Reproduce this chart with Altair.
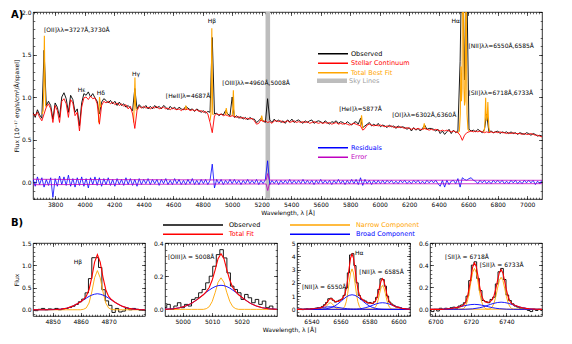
import altair as alt
import numpy as np
import pandas as pd

FONT = "DejaVu Sans"

# ======================= Panel A : integrated spectrum =======================
WAVE_START = 3650      # Angstrom, first sample
WAVE_STEP = 15         # Angstrom between samples

OBSERVED = [
    0.82, 0.76, 0.85, 0.79, 0.75, 1.55, 0.90, 0.95, 0.90, 0.74,
    0.93, 0.88, 0.76, 1.00, 1.05, 0.98, 0.82, 1.02, 0.97, 0.82,
    0.86, 0.66, 0.93, 1.04, 1.02, 1.06, 1.00, 1.04, 0.99, 0.95,
    0.80, 0.94, 0.98, 0.96, 0.93, 0.96, 0.92, 0.95, 0.90, 0.94,
    0.90, 0.92, 0.88, 0.90, 0.87, 0.84, 1.10, 0.86, 0.91, 0.88,
    0.87, 0.90, 0.86, 0.89, 0.86, 0.90, 0.87, 0.89, 0.86, 0.90,
    0.88, 0.85, 0.89, 0.86, 0.88, 0.85, 0.88, 0.86, 0.85, 0.89,
    0.87, 0.85, 0.86, 0.83, 0.86, 0.84, 0.82, 0.84, 0.81, 0.83,
    0.82, 1.70, 0.80, 0.81, 0.78, 0.80, 0.79, 0.84, 0.80, 0.78,
    1.00, 0.76, 0.78, 0.75, 0.77, 0.74, 0.76, 0.73, 0.76, 0.74,
    0.74, 0.70, 0.72, 0.75, 0.72, 0.70, 0.98, 0.73, 0.70, 0.74,
    0.71, 0.73, 0.70, 0.72, 0.69, 0.73, 0.71, 0.74, 0.70, 0.72,
    0.73, 0.71, 0.69, 0.72, 0.70, 0.72, 0.73, 0.69, 0.71, 0.72,
    0.71, 0.69, 0.72, 0.70, 0.68, 0.71, 0.70, 0.72, 0.69, 0.71,
    0.70, 0.68, 0.71, 0.69, 0.67, 0.70, 0.71, 0.68, 0.75, 0.64,
    0.66, 0.68, 0.70, 0.66, 0.68, 0.66, 0.69, 0.65, 0.67, 0.66,
    0.64, 0.67, 0.65, 0.66, 0.63, 0.66, 0.64, 0.65, 0.64, 0.62,
    0.64, 0.60, 0.64, 0.61, 0.63, 0.60, 0.63, 0.67, 0.62, 0.63,
    0.63, 0.62, 0.60, 0.62, 0.57, 0.60, 0.56, 0.59, 0.62, 0.57,
    0.61, 0.58, 0.60, 1.42, 3.00, 1.20, 2.40, 0.62, 0.60, 0.61,
    0.59, 0.62, 0.60, 0.58, 0.62, 0.80, 0.59, 0.60, 0.58, 0.59,
    0.60, 0.57, 0.59, 0.58, 0.59, 0.57, 0.59, 0.57, 0.58, 0.56,
    0.58, 0.57, 0.56, 0.58, 0.57, 0.55, 0.57, 0.56, 0.54, 0.55, 0.54,
]
CONTINUUM = [
    0.80, 0.78, 0.82, 0.76, 0.72, 0.80, 0.88, 0.92, 0.86, 0.70,
    0.90, 0.84, 0.70, 0.95, 0.98, 0.92, 0.76, 0.97, 0.93, 0.78,
    0.82, 0.60, 0.88, 0.99, 1.00, 0.97, 1.01, 0.98, 0.99, 0.92,
    0.68, 0.90, 0.95, 0.93, 0.95, 0.92, 0.94, 0.91, 0.93, 0.90,
    0.92, 0.89, 0.91, 0.86, 0.89, 0.80, 0.63, 0.84, 0.89, 0.87,
    0.89, 0.87, 0.88, 0.86, 0.88, 0.87, 0.89, 0.86, 0.87, 0.88,
    0.86, 0.87, 0.85, 0.87, 0.86, 0.85, 0.86, 0.84, 0.86, 0.85,
    0.86, 0.84, 0.85, 0.84, 0.85, 0.83, 0.84, 0.82, 0.83, 0.80,
    0.70, 0.58, 0.78, 0.80, 0.79, 0.80, 0.78, 0.79, 0.78, 0.77,
    0.78, 0.77, 0.76, 0.77, 0.75, 0.76, 0.74, 0.75, 0.74, 0.75,
    0.72, 0.68, 0.69, 0.73, 0.71, 0.72, 0.70, 0.71, 0.69, 0.72,
    0.72, 0.71, 0.72, 0.70, 0.71, 0.72, 0.70, 0.71, 0.72, 0.70,
    0.71, 0.70, 0.71, 0.70, 0.71, 0.69, 0.70, 0.71, 0.70, 0.69,
    0.70, 0.69, 0.70, 0.69, 0.70, 0.68, 0.69, 0.70, 0.68, 0.69,
    0.68, 0.69, 0.68, 0.67, 0.68, 0.69, 0.68, 0.67, 0.66, 0.61,
    0.63, 0.67, 0.68, 0.67, 0.66, 0.67, 0.66, 0.67, 0.66, 0.65,
    0.66, 0.65, 0.66, 0.64, 0.65, 0.64, 0.65, 0.64, 0.63, 0.64,
    0.63, 0.62, 0.63, 0.62, 0.63, 0.62, 0.62, 0.63, 0.62, 0.61,
    0.62, 0.61, 0.62, 0.61, 0.60, 0.61, 0.60, 0.61, 0.60, 0.59,
    0.60, 0.59, 0.58, 0.55, 0.49, 0.55, 0.58, 0.59, 0.60, 0.59,
    0.60, 0.59, 0.60, 0.59, 0.58, 0.59, 0.58, 0.59, 0.58, 0.59,
    0.58, 0.59, 0.58, 0.58, 0.57, 0.58, 0.57, 0.58, 0.57, 0.57,
    0.57, 0.56, 0.57, 0.56, 0.56, 0.57, 0.56, 0.55, 0.55, 0.54, 0.53,
]
RESIDUALS = [
    0.04, -0.05, 0.06, -0.03, 0.05, -0.06, 0.03, -0.04, 0.05, -0.18,
    0.04, -0.05, 0.07, -0.03, 0.06, -0.04, 0.08, -0.05, 0.04, -0.06,
    0.05, -0.04, 0.06, -0.05, 0.04, -0.07, 0.05, -0.03, 0.06, -0.04,
    0.05, -0.05, 0.04, -0.03, 0.05, -0.04, 0.03, -0.05, 0.04, -0.03,
    0.03, -0.04, 0.05, -0.03, 0.04, -0.04, 0.03, -0.05, 0.04, -0.03,
    0.03, -0.02, 0.04, -0.03, 0.03, -0.02, 0.03, -0.04, 0.03, -0.02,
    0.04, -0.03, 0.02, -0.03, 0.04, -0.02, 0.03, -0.03, 0.02, -0.03,
    0.03, -0.02, 0.04, -0.03, 0.02, -0.03, 0.03, -0.02, 0.03, -0.03,
    0.02, 0.21, -0.07, 0.03, -0.02, 0.03, -0.03, 0.02, -0.02, 0.03,
    -0.02, 0.03, -0.02, 0.02, -0.03, 0.02, -0.02, 0.03, -0.02, 0.02,
    -0.02, 0.03, -0.03, 0.02, -0.02, 0.03, 0.25, -0.03, 0.02, -0.02,
    0.02, -0.03, 0.02, -0.02, 0.02, -0.02, 0.03, -0.02, 0.02, -0.02,
    0.02, -0.02, 0.03, -0.02, 0.02, -0.02, 0.02, -0.03, 0.02, -0.02,
    0.03, -0.02, 0.02, -0.02, 0.02, -0.03, 0.02, -0.02, 0.03, -0.02,
    0.02, -0.03, 0.02, -0.02, 0.03, -0.02, 0.03, -0.03, 0.05, -0.04,
    0.03, -0.02, 0.02, -0.03, 0.02, -0.02, 0.02, -0.02, 0.02, -0.02,
    0.02, -0.01, 0.02, -0.02, 0.01, -0.02, 0.02, -0.01, 0.02, -0.02,
    0.01, -0.02, 0.02, -0.01, 0.02, -0.02, 0.01, -0.02, 0.02, -0.01,
    0.02, -0.01, 0.02, -0.02, -0.05, 0.02, -0.06, 0.02, -0.03, 0.01,
    0.02, -0.02, 0.04, -0.06, 0.05, 0.03, 0.02, 0.04, 0.05, 0.02,
    0.01, -0.02, 0.02, -0.01, 0.02, -0.02, 0.01, -0.02, 0.02, -0.01,
    0.02, -0.01, 0.02, -0.02, 0.01, -0.02, 0.02, -0.01, 0.02, -0.02,
    0.01, -0.02, 0.02, -0.01, 0.02, -0.01, 0.02, -0.03, 0.01, -0.02, 0.02,
]
ERR_WAVE = [3650, 3900, 4200, 4600, 5000, 5230, 5241, 5252, 5600, 6000, 6500, 7100]
ERR_VAL = [0.032, 0.030, 0.028, 0.026, 0.024, 0.023, 0.10, 0.023, 0.022, 0.021, 0.021, 0.020]

SKY_LO = [5226]
SKY_HI = [5257]

# total best fit (continuum + emission lines) around each emission line
BESTFIT = {
    "OII":   ([3712, 3719, 3724, 3727, 3730, 3735, 3742], [0.80, 0.84, 1.20, 1.72, 1.30, 0.90, 0.88]),
    "Hd":    ([4094, 4101, 4108], [0.70, 1.00, 0.88]),
    "Hg":    ([4332, 4337, 4341, 4345, 4350], [0.70, 0.95, 1.23, 0.90, 0.84]),
    "HeII":  ([4680, 4686, 4692], [0.85, 0.90, 0.85]),
    "Hb":    ([4850, 4856, 4859, 4862, 4865, 4868, 4874], [0.72, 0.80, 1.20, 1.81, 1.20, 0.80, 0.79]),
    "OIIIa": ([4953, 4960, 4967], [0.79, 0.87, 0.79]),
    "OIIIb": ([5000, 5004, 5008, 5012, 5016], [0.78, 0.85, 1.08, 0.85, 0.77]),
    "NI":    ([5193, 5200, 5207], [0.72, 0.78, 0.72]),
    "HeI":   ([5869, 5877, 5885], [0.66, 0.785, 0.63]),
    "OI":    ([6295, 6302, 6309], [0.62, 0.69, 0.62]),
    "Ha":    ([6530, 6540, 6546, 6550, 6554, 6558, 6561, 6564, 6567, 6571, 6575, 6579, 6582, 6585, 6588, 6592, 6598, 6606],
              [0.58, 0.60, 0.80, 1.36, 0.95, 1.10, 2.40, 4.50, 2.40, 1.10, 0.90, 0.95, 1.60, 2.90, 1.60, 0.80, 0.62, 0.60]),
    "SII":   ([6706, 6712, 6715, 6718, 6721, 6725, 6729, 6733, 6736, 6740, 6746],
              [0.59, 0.65, 0.80, 0.99, 0.80, 0.72, 0.78, 0.94, 0.78, 0.64, 0.59]),
}

A_LABELS = ["[OII]λλ=3727Å,3730Å", "Hε", "Hδ", "Hγ", "[HeII]λ=4687Å", "Hβ",
            "[OIII]λλ=4960Å,5008Å", "[HeI]λ=5877Å", "[OI]λλ=6302Å,6360Å", "Hα",
            "[NII]λλ=6550Å,6585Å", "[SII]λλ=6718Å,6733Å"]
A_LABEL_WAVE = [3724, 3980, 4110, 4349, 4701, 4863, 5162, 5870, 6302, 6515, 6601, 6601]
A_LABEL_FLUX = [1.79, 1.08, 1.05, 1.27, 1.01, 1.90, 1.17, 0.86, 0.785, 1.90, 1.60, 1.05]
A_LABEL_ALIGN = ["left", "center", "center", "center", "center", "center",
                 "center", "center", "center", "center", "left", "left"]

A_XDOM = [3650, 7100]
A_YDOM = [-0.2, 2.0]
A_XTICKS = list(range(3800, 7001, 200))
A_XMINOR = list(range(3660, 7100, 20))
A_YTICKS = [0.0, 0.5, 1.0, 1.5, 2.0]
A_YMINOR = [round(-0.2 + 0.1 * i, 2) for i in range(23)]

# ======================= Panel B : line fits =======================
# --- H beta
P1_WAVE = [4843, 4847, 4851, 4853, 4855, 4857, 4858, 4859, 4860, 4861, 4862, 4863, 4864, 4865,
           4866, 4867, 4868, 4869, 4870, 4871, 4872, 4873, 4874, 4875, 4877, 4879, 4881, 4883]
P1_BROAD = [0.00, 0.00, 0.005, 0.014, 0.035, 0.076, 0.105, 0.14, 0.18, 0.22, 0.26, 0.30, 0.33, 0.35,
            0.36, 0.35, 0.33, 0.30, 0.26, 0.22, 0.18, 0.14, 0.105, 0.076, 0.035, 0.014, 0.005, 0.001]
P1_NARROW = [0, 0, 0, 0, 0, 0, 0, 0, 0, 0.01, 0.04, 0.15, 0.40, 0.72,
             0.88, 0.72, 0.40, 0.15, 0.04, 0.01, 0, 0, 0, 0, 0, 0, 0, 0]
P1_TOTAL = [0.00, 0.00, 0.005, 0.014, 0.035, 0.076, 0.105, 0.14, 0.18, 0.23, 0.30, 0.45, 0.73, 1.07,
            1.24, 1.07, 0.73, 0.45, 0.30, 0.23, 0.18, 0.14, 0.105, 0.076, 0.035, 0.014, 0.005, 0.001]
P1_OBS_START, P1_OBS_STEP = 4843.0, 1.2
P1_OBS = [0.00, -0.02, 0.01, 0.03, 0.00, 0.02, 0.01, 0.03, 0.00, 0.02, 0.03, 0.05, 0.08, 0.12, 0.18,
          0.24, 0.38, 0.70, 1.17, 1.17, 0.95, 0.45, 0.20, 0.10, -0.06, 0.03, -0.05, -0.03, 0.04, 0.00,
          0.03, 0.01, -0.01, 0.00]

# --- [OIII] 5008
P2_WAVE = [4994, 4997, 4999, 5001, 5003, 5005, 5007, 5008, 5009, 5010, 5011, 5012, 5013,
           5014, 5015, 5016, 5017, 5018, 5019, 5021, 5023, 5025, 5027, 5029, 5032]
P2_BROAD = [0.001, 0.004, 0.010, 0.020, 0.036, 0.060, 0.088, 0.103, 0.116, 0.128, 0.137, 0.143, 0.145,
            0.143, 0.137, 0.128, 0.116, 0.103, 0.088, 0.060, 0.036, 0.020, 0.010, 0.004, 0.001]
P2_NARROW = [0, 0, 0, 0, 0, 0, 0, 0.004, 0.016, 0.047, 0.10, 0.163, 0.19,
             0.163, 0.10, 0.047, 0.016, 0.004, 0, 0, 0, 0, 0, 0, 0]
P2_TOTAL = [0.001, 0.004, 0.010, 0.020, 0.036, 0.060, 0.088, 0.107, 0.132, 0.175, 0.237, 0.306, 0.335,
            0.306, 0.237, 0.175, 0.132, 0.107, 0.088, 0.060, 0.036, 0.020, 0.010, 0.004, 0.001]
P2_OBS_START, P2_OBS_STEP = 4994.0, 1.2
P2_OBS = [0.01, 0.03, 0.00, 0.02, 0.04, 0.01, 0.03, 0.02, 0.06, 0.07, 0.10, 0.12, 0.16, 0.20, 0.26,
          0.33, 0.36, 0.31, 0.22, 0.14, 0.12, 0.10, 0.06, 0.09, 0.07, 0.04, 0.06, 0.03, 0.05, 0.01,
          0.02, 0.00]

# --- H alpha + [NII]
P3_TOTAL_WAVE = [6528, 6532, 6536, 6540, 6543, 6545, 6547] + list(range(6549, 6599)) + [6600, 6602, 6605, 6608, 6611]
P3_TOTAL = [0.00, 0.00, 0.01, 0.035, 0.07, 0.10, 0.15,
            0.28, 0.40, 0.57, 0.72, 0.80, 0.79, 0.71, 0.62, 0.57, 0.59,
            0.62, 0.69, 0.79, 0.92, 1.16, 1.57, 2.25, 3.11, 3.87, 4.17,
            3.86, 3.10, 2.23, 1.55, 1.13, 0.88, 0.76, 0.66, 0.60, 0.54,
            0.50, 0.47, 0.46, 0.46, 0.50, 0.61, 0.82, 1.20, 1.70, 2.13,
            2.31, 2.12, 1.68, 1.16, 0.77, 0.53, 0.39, 0.31, 0.26, 0.22,
            0.15, 0.09, 0.04, 0.01, 0.00]
P3_NARROW = {
    "Ha": ([6528, 6560, 6561, 6562, 6563, 6564, 6565, 6566, 6567, 6568, 6569, 6570, 6571, 6572, 6573, 6574, 6575, 6576, 6611],
           [0, 0, 0.02, 0.07, 0.23, 0.58, 1.20, 2.02, 2.75, 3.05, 2.75, 2.02, 1.20, 0.58, 0.23, 0.07, 0.02, 0, 0]),
    "NIIb": ([6528, 6582, 6583, 6584, 6585, 6586, 6587, 6588, 6589, 6590, 6591, 6592, 6593, 6594, 6595, 6596, 6611],
             [0, 0.01, 0.04, 0.14, 0.34, 0.70, 1.19, 1.62, 1.80, 1.62, 1.19, 0.70, 0.34, 0.14, 0.04, 0.01, 0]),
    "NIIa": ([6528, 6547, 6548, 6549, 6550, 6551, 6552, 6553, 6554, 6555, 6556, 6557, 6558, 6559, 6611],
             [0, 0.01, 0.04, 0.09, 0.19, 0.33, 0.45, 0.50, 0.45, 0.33, 0.19, 0.09, 0.04, 0.01, 0]),
}
P3_BROAD = {
    "Ha": ([6528, 6544, 6546, 6548, 6550, 6552, 6554, 6556, 6558, 6560, 6562, 6564, 6566, 6568, 6570,
            6572, 6574, 6576, 6578, 6580, 6582, 6584, 6586, 6588, 6590, 6592, 6611],
           [0, 0.003, 0.008, 0.019, 0.040, 0.081, 0.149, 0.253, 0.397, 0.573, 0.763, 0.936, 1.056, 1.10, 1.056,
            0.936, 0.763, 0.573, 0.397, 0.253, 0.149, 0.081, 0.040, 0.019, 0.008, 0.003, 0]),
    "NIIb": ([6528] + list(range(6565, 6612, 2)),
             [0, 0.001, 0.004, 0.009, 0.018, 0.037, 0.068, 0.115, 0.18, 0.26, 0.347, 0.425, 0.48, 0.50,
              0.48, 0.425, 0.347, 0.26, 0.18, 0.115, 0.068, 0.037, 0.018, 0.009, 0.004]),
    "NIIa": ([6528] + list(range(6531, 6578, 2)) + [6611],
             [0, 0.001, 0.003, 0.007, 0.014, 0.026, 0.044, 0.069, 0.099, 0.132, 0.162, 0.182, 0.19,
              0.182, 0.162, 0.132, 0.099, 0.069, 0.044, 0.026, 0.014, 0.007, 0.003, 0.001, 0, 0]),
}
P3_OBS_START, P3_OBS_STEP = 6528.0, 1.5
P3_OBS = [0.02, -0.03, 0.01, 0.03, -0.02, 0.02, 0.05, 0.00, 0.06, 0.03,
          0.09, 0.12, 0.10, 0.22, 0.35, 0.52, 0.80, 0.84, 0.68, 0.55,
          0.62, 0.70, 0.76, 1.05, 1.60, 2.75, 4.10, 4.20, 3.30, 2.00,
          1.05, 0.75, 0.70, 0.62, 0.48, 0.52, 0.44, 0.58, 0.90, 1.50,
          2.30, 2.25, 1.75, 1.00, 0.55, 0.40, 0.30, 0.18, 0.17, 0.12,
          0.04, 0.06, 0.01, 0.03, -0.01, 0.02]

# --- [SII] doublet
P4_TOTAL_WAVE = [6697, 6700, 6703, 6706, 6709, 6711, 6713] + list(range(6715, 6746)) + [6747, 6749, 6751, 6753, 6756, 6760]
P4_TOTAL = [0.00, 0.00, 0.00, 0.003, 0.008, 0.014, 0.02,
            0.03, 0.041, 0.064, 0.111, 0.19, 0.29, 0.383, 0.42, 0.388, 0.30,
            0.202, 0.128, 0.086, 0.068, 0.063, 0.064, 0.072, 0.088, 0.123, 0.184,
            0.262, 0.332, 0.36, 0.329, 0.256, 0.176, 0.111, 0.073, 0.052, 0.041, 0.034,
            0.023, 0.015, 0.009, 0.005, 0.002, 0.0]
P4_NARROW = {
    "SIIa": ([6697] + list(range(6715, 6730)) + [6760],
             [0, 0.002, 0.009, 0.028, 0.071, 0.146, 0.245, 0.334, 0.37, 0.334, 0.245, 0.146, 0.071, 0.028, 0.009, 0.002, 0]),
    "SIIb": ([6697] + list(range(6730, 6745)) + [6760],
             [0, 0.002, 0.007, 0.022, 0.055, 0.115, 0.192, 0.262, 0.29, 0.262, 0.192, 0.115, 0.055, 0.022, 0.007, 0.002, 0]),
}
P4_BROAD = {
    "SIIa": ([6697, 6700, 6704, 6708, 6710, 6712, 6714, 6716, 6718, 6720, 6722, 6724, 6726, 6728, 6730,
              6732, 6734, 6736, 6740, 6744, 6750, 6760],
             [0, 0.0003, 0.0017, 0.006, 0.010, 0.016, 0.023, 0.031, 0.038, 0.0432, 0.045, 0.0432, 0.038, 0.031,
              0.023, 0.016, 0.010, 0.006, 0.0017, 0.0003, 0, 0]),
    "SIIb": ([6697, 6710, 6713, 6717, 6721, 6725, 6727, 6729, 6731, 6733, 6735, 6737, 6739, 6741, 6743,
              6745, 6747, 6749, 6753, 6757, 6760],
             [0, 0.0001, 0.0002, 0.0011, 0.0047, 0.015, 0.023, 0.034, 0.045, 0.055, 0.062, 0.065, 0.062, 0.055,
              0.045, 0.034, 0.023, 0.015, 0.0047, 0.0011, 0.0003]),
}
P4_OBS_START, P4_OBS_STEP = 6697.0, 1.5
P4_OBS = [-0.01, -0.02, 0.00, -0.015, 0.01, 0.00, 0.01, 0.00, 0.015, 0.02,
          0.01, 0.03, 0.04, 0.06, 0.12, 0.26, 0.40, 0.43, 0.28, 0.17,
          0.08, 0.07, 0.06, 0.09, 0.11, 0.23, 0.34, 0.37, 0.27, 0.13,
          0.08, 0.05, 0.03, 0.02, 0.01, 0.01, 0.00, -0.01, -0.02, 0.00,
          -0.01, 0.00, -0.01]

B_PANELS = [
    dict(name="p1", xdom=[4843, 4883], ydom=[-0.14, 1.5], xt=[4850, 4860, 4870], xm=list(range(4844, 4883, 1)),
         yt=[0.0, 0.5, 1.0, 1.5], ym=[round(-0.1 + 0.1 * i, 2) for i in range(17)], yfmt=".1f",
         labels=[("Hβ", 4859, 1.08, "center")]),
    dict(name="p2", xdom=[4994, 5032], ydom=[-0.04, 0.4], xt=[5000, 5010, 5020], xm=list(range(4995, 5032, 1)),
         yt=[0.0, 0.2, 0.4], ym=[round(-0.04 + 0.04 * i, 2) for i in range(12)], yfmt=".1f",
         labels=[("[OIII]λ = 5008Å", 4995, 0.318, "left")]),
    dict(name="p3", xdom=[6530, 6608], ydom=[-0.5, 5.0], xt=[6540, 6560, 6580, 6600], xm=list(range(6530, 6609, 2)),
         yt=[0, 1, 2, 3, 4, 5], ym=[round(-0.4 + 0.2 * i, 1) for i in range(28)], yfmt="d",
         labels=[("Hα", 6573, 4.27, "center"), ("[NII]λ = 6585Å", 6573, 2.83, "left"),
                 ("[NII]λ = 6550Å", 6533.4, 1.70, "left")]),
    dict(name="p4", xdom=[6697, 6760], ydom=[-0.06, 0.6], xt=[6700, 6720, 6740], xm=list(range(6698, 6760, 2)),
         yt=[0.0, 0.2, 0.4, 0.6], ym=[round(-0.04 + 0.04 * i, 2) for i in range(17)], yfmt=".1f",
         labels=[("[SII]λ = 6718Å", 6705.5, 0.476, "left"), ("[SII]λ = 6733Å", 6725, 0.40, "left")]),
]

# ======================= layout constants =======================
A_W, A_H = 509, 187
B_W = [112, 112, 113, 112]
B_H = 73
TICK_MAJ, TICK_MIN = 3.5, 1.8
LEG_FONT = 6.5


def axis_layers(xdom, ydom, W, H, xt, xm, yt, ym, xfmt, yfmt, xtitle, ytitle, xtitle_kw=None):
    d = pd.DataFrame({"x": [xdom[0]], "y": [ydom[0]]})
    base = alt.Chart(d).mark_point(opacity=0, size=1)
    xs = alt.Scale(domain=xdom, nice=False, zero=False)
    ys = alt.Scale(domain=ydom, nice=False, zero=False)
    xkw = dict(values=xt, ticks=False, domain=False, format=xfmt, labelPadding=2, titlePadding=2, grid=False)
    xkw["title"] = xtitle
    if xtitle_kw:
        xkw.update(xtitle_kw)
    ykw = dict(values=yt, ticks=False, domain=False, format=yfmt, labelPadding=2, titlePadding=2, grid=False)
    ykw["title"] = ytitle
    layers = [base.encode(x=alt.X("x:Q", scale=xs, axis=alt.Axis(**xkw)),
                          y=alt.Y("y:Q", scale=ys, axis=alt.Axis(**ykw)))]
    common = dict(grid=False, domain=False, labels=False, title=None)
    for xv, yv, sz in [(xt, yt, TICK_MAJ), (xm, ym, TICK_MIN)]:
        layers.append(base.encode(
            x=alt.X("x:Q", scale=xs, axis=alt.Axis(orient="top", offset=-H, values=xv, tickSize=sz, **common)),
            y=alt.Y("y:Q", scale=ys, axis=alt.Axis(orient="right", offset=-W, values=yv, tickSize=sz, **common))))
        layers.append(base.encode(
            x=alt.X("x:Q", scale=xs, axis=alt.Axis(orient="bottom", offset=-H, values=xv, tickSize=sz, **common)),
            y=alt.Y("y:Q", scale=ys, axis=alt.Axis(orient="left", offset=-W, values=yv, tickSize=sz, **common))))
    return layers, xs, ys


# ----------------------------- Panel A -----------------------------
n = min(len(OBSERVED), len(CONTINUUM), len(RESIDUALS))
wave = WAVE_START + WAVE_STEP * np.arange(n)
obs_df = pd.DataFrame({"wave": wave, "flux": OBSERVED[:n], "series": "Observed"})
cont_df = pd.DataFrame({"wave": wave, "flux": CONTINUUM[:n], "series": "Stellar Continuum"})
res_df = pd.DataFrame({"wave": wave, "flux": RESIDUALS[:n], "series": "Residuals"})
bf_rows = []
for seg, (ws, fs) in BESTFIT.items():
    for w, f in zip(ws, fs):
        bf_rows.append({"wave": w, "flux": f, "seg": seg, "series": "Total Best Fit"})
bf_df = pd.DataFrame(bf_rows)
err_rows = []
for w, e in zip(ERR_WAVE, ERR_VAL):
    err_rows.append({"wave": w, "flux": e, "side": "hi", "series": "Error"})
    err_rows.append({"wave": w, "flux": -e, "side": "lo", "series": "Error"})
err_df = pd.DataFrame(err_rows)
sky_df = pd.DataFrame({"lo": SKY_LO, "hi": SKY_HI, "series": ["Sky Lines"] * len(SKY_LO)})
lab_df = pd.DataFrame({"label": A_LABELS, "wave": A_LABEL_WAVE, "flux": A_LABEL_FLUX, "align": A_LABEL_ALIGN})

axA, xsA, ysA = axis_layers(A_XDOM, A_YDOM, A_W, A_H, A_XTICKS, A_XMINOR, A_YTICKS, A_YMINOR,
                            "d", ".1f", "Wavelength, λ [Å]", "Flux [10⁻¹⁷ erg/s/cm²/Å/spaxel]")
XA = alt.X("wave:Q", scale=xsA, axis=None)
YA = alt.Y("flux:Q", scale=ysA, axis=None)

LEG_COMMON = dict(orient="none", title=None, labelFont=FONT, labelFontSize=LEG_FONT, padding=0,
                  clipHeight=7.5, rowPadding=1.5)
col_scale = alt.Scale(domain=["Observed", "Stellar Continuum", "Total Best Fit"],
                      range=["black", "#ff0000", "#ffa500"])
col_legend = alt.Legend(legendX=284, legendY=38, symbolType="stroke", symbolSize=900,
                        symbolStrokeWidth=1.5, labelOffset=2,
                        labelColor={"expr": "datum.label == 'Observed' ? 'black' : datum.label == 'Stellar Continuum' ? '#ff0000' : '#ffa500'"},
                        **LEG_COMMON)
fill_scale = alt.Scale(domain=["Sky Lines"], range=["#bdbdbd"])
fill_legend = alt.Legend(legendX=284, legendY=65, symbolType="M-1,-0.15L1,-0.15L1,0.15L-1,0.15Z",
                         symbolSize=900, symbolStrokeWidth=0, labelOffset=2, labelColor="#a0a0a0",
                         **LEG_COMMON)
str_scale = alt.Scale(domain=["Residuals", "Error"], range=["#0000ff", "#bf00bf"])
str_legend = alt.Legend(legendX=284, legendY=132, symbolType="stroke", symbolSize=900,
                        symbolStrokeWidth=1.5, labelOffset=2,
                        labelColor={"expr": "datum.label == 'Residuals' ? '#0000ff' : '#bf00bf'"},
                        **LEG_COMMON)

sky = alt.Chart(sky_df).mark_rect(clip=True).encode(
    x=alt.X("lo:Q", scale=xsA, axis=None), x2="hi:Q", y=alt.value(0), y2=alt.value(A_H),
    fill=alt.Fill("series:N", scale=fill_scale, legend=fill_legend))
obs_line = alt.Chart(obs_df).mark_line(strokeWidth=0.9, clip=True).encode(
    x=XA, y=YA, color=alt.Color("series:N", scale=col_scale, legend=col_legend))
bf_line = alt.Chart(bf_df).mark_line(strokeWidth=1.1, clip=True).encode(
    x=XA, y=YA, detail="seg:N", color=alt.Color("series:N", scale=col_scale, legend=col_legend))
cont_line = alt.Chart(cont_df).mark_line(strokeWidth=0.9, clip=True).encode(
    x=XA, y=YA, color=alt.Color("series:N", scale=col_scale, legend=col_legend))
res_line = alt.Chart(res_df).mark_line(strokeWidth=0.8, clip=True).encode(
    x=XA, y=YA, stroke=alt.Stroke("series:N", scale=str_scale, legend=str_legend))
err_line = alt.Chart(err_df).mark_line(strokeWidth=0.8, clip=True).encode(
    x=XA, y=YA, detail="side:N", stroke=alt.Stroke("series:N", scale=str_scale, legend=str_legend))
txt_layers = []
for al in ["left", "center"]:
    sub = lab_df[lab_df["align"] == al]
    txt_layers.append(alt.Chart(sub).mark_text(align=al, baseline="middle", fontSize=6, font=FONT).encode(
        x=XA, y=YA, text="label:N"))
a_tag = alt.Chart(pd.DataFrame({"t": ["A)"]})).mark_text(
    align="left", baseline="top", fontSize=10, fontWeight="bold", font=FONT).encode(
    text="t:N", x=alt.value(-22), y=alt.value(-2))

top = alt.layer(sky, obs_line, bf_line, cont_line, res_line, err_line, *txt_layers, a_tag, *axA).resolve_axis(
    x="independent", y="independent").properties(width=A_W, height=A_H)

# ----------------------------- Panel B -----------------------------
B_SERIES = ["Observed", "Total Fit", "Narrow Component", "Broad Component"]
B_COLORS = ["black", "#ff0000", "#ffa500", "#0000ff"]
b_scale = alt.Scale(domain=B_SERIES, range=B_COLORS)
b_legend = alt.Legend(legendX=129, legendY=-22, columns=2, columnPadding=28,
                      symbolType="stroke", symbolSize=3600, symbolStrokeWidth=1.5, labelOffset=5,
                      labelColor={"expr": "datum.label == 'Observed' ? 'black' : datum.label == 'Total Fit' ? '#ff0000' : datum.label == 'Narrow Component' ? '#ffa500' : '#0000ff'"},
                      **LEG_COMMON)

PANEL_DATA = {
    "p1": dict(obs=(P1_OBS_START, P1_OBS_STEP, P1_OBS), total=(P1_WAVE, P1_TOTAL),
               narrow={"Hb": (P1_WAVE, P1_NARROW)}, broad={"Hb": (P1_WAVE, P1_BROAD)}),
    "p2": dict(obs=(P2_OBS_START, P2_OBS_STEP, P2_OBS), total=(P2_WAVE, P2_TOTAL),
               narrow={"OIII": (P2_WAVE, P2_NARROW)}, broad={"OIII": (P2_WAVE, P2_BROAD)}),
    "p3": dict(obs=(P3_OBS_START, P3_OBS_STEP, P3_OBS), total=(P3_TOTAL_WAVE, P3_TOTAL),
               narrow=P3_NARROW, broad=P3_BROAD),
    "p4": dict(obs=(P4_OBS_START, P4_OBS_STEP, P4_OBS), total=(P4_TOTAL_WAVE, P4_TOTAL),
               narrow=P4_NARROW, broad=P4_BROAD),
}

b_charts = []
for i, P in enumerate(B_PANELS):
    D = PANEL_DATA[P["name"]]
    W = B_W[i]
    st, sp, ov = D["obs"]
    odf = pd.DataFrame({"wave": np.round(st + sp * np.arange(len(ov)), 2), "flux": ov, "series": "Observed"})
    tw, tv = D["total"]
    m = min(len(tw), len(tv))
    tdf = pd.DataFrame({"wave": tw[:m], "flux": tv[:m], "series": "Total Fit"})
    rows = []
    for kind, label in [("narrow", "Narrow Component"), ("broad", "Broad Component")]:
        for comp, (ws, vs) in D[kind].items():
            for w, v in zip(ws, vs):
                rows.append({"wave": w, "flux": v, "comp": comp, "series": label})
    cdf = pd.DataFrame(rows)
    xtitle = "Wavelength, λ [Å]" if i == 1 else None
    ytitle = "Flux" if i == 0 else None
    tkw = {"titleX": 124} if i == 1 else None
    axB, xs, ys = axis_layers(P["xdom"], P["ydom"], W, B_H, P["xt"], P["xm"], P["yt"], P["ym"],
                              "d", P["yfmt"], xtitle, ytitle, tkw)
    X = alt.X("wave:Q", scale=xs, axis=None)
    Y = alt.Y("flux:Q", scale=ys, axis=None)
    C = alt.Color("series:N", scale=b_scale, legend=b_legend)
    o_l = alt.Chart(odf).mark_line(interpolate="step", strokeWidth=0.9, clip=True).encode(x=X, y=Y, color=C)
    n_l = alt.Chart(cdf[cdf["series"] == "Narrow Component"]).mark_line(strokeWidth=0.9, clip=True).encode(
        x=X, y=Y, detail="comp:N", color=C)
    b_l = alt.Chart(cdf[cdf["series"] == "Broad Component"]).mark_line(strokeWidth=0.9, clip=True).encode(
        x=X, y=Y, detail="comp:N", color=C)
    t_l = alt.Chart(tdf).mark_line(strokeWidth=1.1, clip=True).encode(x=X, y=Y, color=C)
    ldf = pd.DataFrame(P["labels"], columns=["label", "wave", "flux", "align"])
    tl = []
    for al in ["left", "center"]:
        sub = ldf[ldf["align"] == al]
        if len(sub):
            tl.append(alt.Chart(sub).mark_text(align=al, baseline="middle", fontSize=6, font=FONT).encode(
                x=X, y=Y, text="label:N"))
    extra = []
    if i == 0:
        extra.append(alt.Chart(pd.DataFrame({"t": ["B)"]})).mark_text(
            align="left", baseline="top", fontSize=10, fontWeight="bold", font=FONT).encode(
            text="t:N", x=alt.value(-22), y=alt.value(-25)))
    ch = alt.layer(o_l, n_l, b_l, t_l, *tl, *extra, *axB).resolve_axis(
        x="independent", y="independent").properties(width=W, height=B_H)
    b_charts.append(ch)

bottom = alt.hconcat(*b_charts, spacing=20, bounds="flush")

chart = alt.vconcat(top, bottom, spacing=44, bounds="flush").resolve_scale(
    color="independent", fill="independent", stroke="independent"
).properties(
    padding={"left": 2, "top": 0, "right": 2, "bottom": 2}
).configure(font=FONT).configure_view(
    stroke="black", strokeWidth=0.8
).configure_axis(
    labelFont=FONT, titleFont=FONT, labelFontSize=6, titleFontSize=6, titleFontWeight="normal",
    labelColor="black", titleColor="black", tickColor="black", tickWidth=0.6, minExtent=0
)

chart.save("out.html", embed_options={"renderer": "svg", "actions": False})
